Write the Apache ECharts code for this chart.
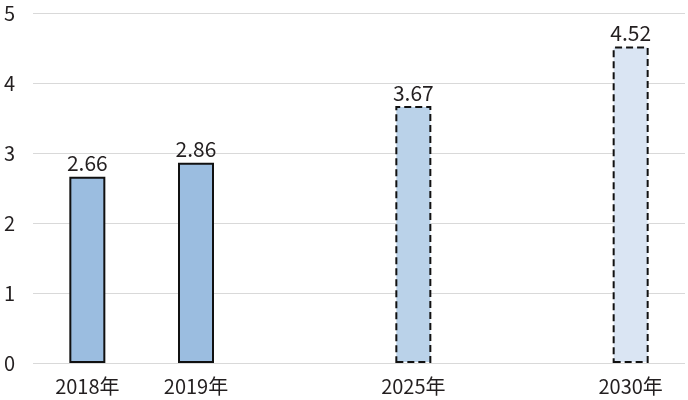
<!DOCTYPE html>
<html><head><meta charset="utf-8">
<script src="https://cdn.jsdelivr.net/npm/echarts@6/dist/echarts.min.js"></script>
<style>html,body{margin:0;padding:0;background:#fff}#c{width:688px;height:400px}</style>
</head><body><div id="c"></div>
<script>
const categories = ['2018年', '2019年', '', '2025年', '', '2030年'];
const values = [2.66, 2.86, null, 3.67, null, 4.52];
const yTicks = [0, 1, 2, 3, 4, 5];

const fills = ['#9bbde0', '#9bbde0', null, '#bad2e9', null, '#dae5f3'];
const dashed = [false, false, false, true, false, true];

const chart = echarts.init(document.getElementById('c'));
const FONT = '"Noto Sans CJK JP", "Noto Sans", sans-serif';
chart.setOption({
  animation: false,
  grid: { left: 33, right: 3, top: 13, bottom: 37, containLabel: false, outerBoundsMode: 'none' },
  xAxis: {
    type: 'category',
    data: categories,
    axisLine: { show: false },
    axisTick: { show: false },
    axisLabel: { color: '#231f20', fontSize: 20, fontFamily: FONT, margin: 13 }
  },
  yAxis: {
    type: 'value',
    min: yTicks[0], max: yTicks[yTicks.length - 1], interval: 1,
    axisLine: { show: false },
    axisTick: { show: false },
    splitLine: { lineStyle: { color: '#d9d9d9', width: 1 } },
    axisLabel: { color: '#231f20', fontSize: 20, fontFamily: FONT, margin: 29, align: 'left' }
  },
  series: [{
    type: 'bar',
    barWidth: 36,
    data: values.map((v, i) => v == null ? null : ({
      value: v,
      itemStyle: {
        color: fills[i],
        borderColor: '#111',
        borderWidth: 2,
        borderType: dashed[i] ? [7, 4] : 'solid'
      }
    })),
    label: {
      show: true, position: 'top', distance: 3,
      color: '#231f20', fontSize: 21, fontFamily: FONT,
      formatter: p => p.value.toFixed(2)
    }
  }]
});
</script></body></html>
